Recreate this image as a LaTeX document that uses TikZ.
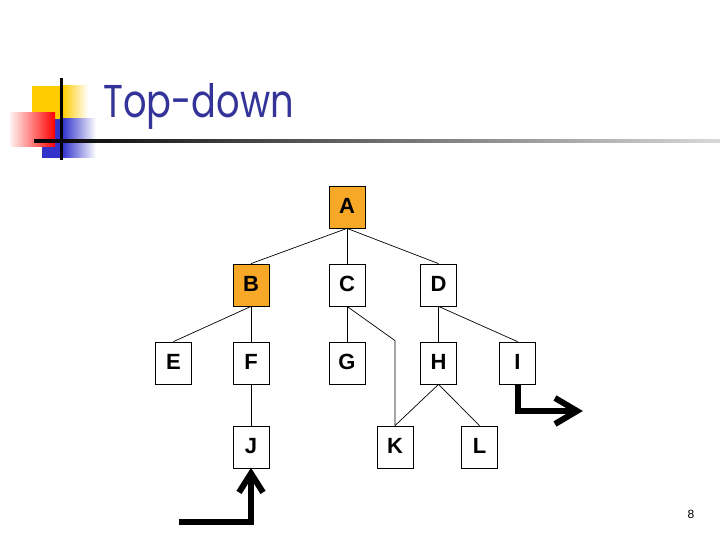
\documentclass[tikz,border=0pt]{standalone}
\usepackage{fontspec}
\setmainfont{Liberation Sans}
\newfontfamily\titlefont{Poppins}
\usetikzlibrary{calc}
\definecolor{boxorange}{RGB}{247,168,39}
\definecolor{titleblue}{RGB}{51,51,153}
\definecolor{logoyellow}{RGB}{255,204,0}
\definecolor{logoblue}{RGB}{51,51,204}
\begin{document}
\begin{tikzpicture}[x=1pt,y=-1pt,
  treebox/.style={draw=black,line width=0.8pt,minimum width=36pt,minimum height=42pt,inner sep=0pt,
    font=\bfseries\fontsize{22}{22}\selectfont,fill=white,text depth=3pt},
  hot/.style={treebox,fill=boxorange},
  link/.style={line width=0.7pt},
  bigarrow/.style={line width=6pt,line join=miter}]
\useasboundingbox (0,0) rectangle (720,540);
% logo
\fill[logoyellow] (32,86) rectangle (63,119);
\shade[left color=logoyellow,right color=white] (62.5,86) rectangle (88,119);
\fill[logoblue] (42,119) rectangle (63,158);
\shade[left color=logoblue,right color=white] (62.5,119) rectangle (96,158);
\shade[left color=red!5,right color=red] (10,113) rectangle (55,147);
\fill[black] (59.5,78) rectangle (62.5,160);
\shade[left color=black,right color=black!15] (34,139.5) rectangle (720,142.5);
\node[anchor=base west,inner sep=0pt,text=titleblue,font=\titlefont\fontsize{46}{46}\selectfont] (title) at (103,118) {\scalebox{0.8}[1]{Top-down}};
% tree
\node[hot] (A) at (347,207) {A};
\node[hot] (B) at (251,285) {B};
\node[treebox] (C) at (347,285) {C};
\node[treebox] (D) at (438.5,285) {D};
\node[treebox] (E) at (173.5,363) {E};
\node[treebox] (F) at (251,363) {F};
\node[treebox] (G) at (347,363) {G};
\node[treebox] (H) at (438.5,363) {H};
\node[treebox] (I) at (517.5,363) {I};
\node[treebox] (J) at (251,447) {J};
\node[treebox] (K) at (395,447) {K};
\node[treebox] (L) at (479.5,447) {L};
\draw[link] (A.south) -- (B.north);
\draw[link] (A.south) -- (C.north);
\draw[link] (A.south) -- (D.north);
\draw[link] (B.south) -- (E.north);
\draw[link] (B.south) -- (F.north);
\draw[link] (F.south) -- (J.north);
\draw[link] (C.south) -- (G.north);
\draw[link] (C.south) -- ([yshift=85pt]K.north) -- (K.north);
\draw[link] (D.south) -- (H.north);
\draw[link] (D.south) -- (I.north);
\draw[link] (H.south) -- (K.north);
\draw[link] (H.south) -- (L.north);
% thick arrows
\coordinate (iend) at (577,411);
\draw[bigarrow] (I.south) |- (iend);
\draw[bigarrow] ($(iend)+(-22,-13)$) -- (iend) -- ($(iend)+(-22,13)$);
\coordinate (jstart) at (179,522);
\coordinate (jtip) at ($(J.south)+(0,5)$);
\draw[bigarrow] (jstart) -| (jtip);
\draw[bigarrow] ($(jtip)+(-12,19)$) -- (jtip) -- ($(jtip)+(12,19)$);
\node[font=\fontsize{12}{12}\selectfont] (page) at (691,514) {8};
\end{tikzpicture}
\end{document}
